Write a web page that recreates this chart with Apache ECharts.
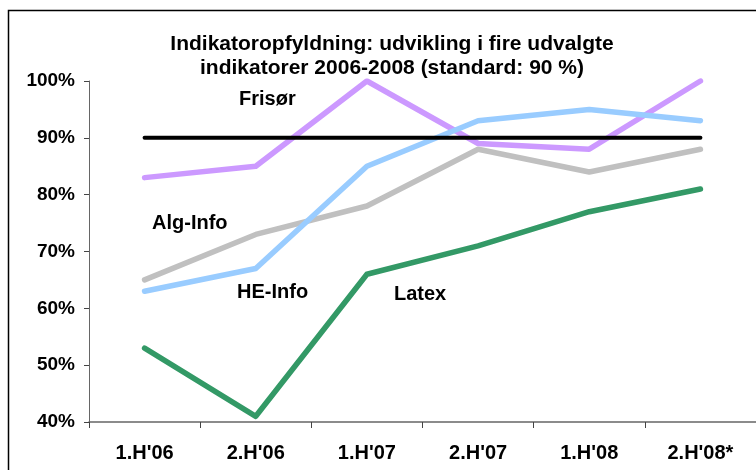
<!DOCTYPE html>
<html>
<head>
<meta charset="utf-8">
<script src="https://cdn.jsdelivr.net/npm/echarts@6/dist/echarts.min.js"></script>
<style>
  html, body { margin: 0; padding: 0; background: #fff; }
  #main { width: 756px; height: 470px; }
</style>
</head>
<body>
<div id="main"></div>
<script>
// halvår
const periods = ["1.H'06", "2.H'06", "1.H'07", "2.H'07", "1.H'08", "2.H'08*"];

// indikatorer, pct.
const frisoer = [83, 85, 100, 89, 88, 100];
const heInfo = [63, 67, 85, 93, 95, 93];
const algInfo = [65, 73, 78, 88, 84, 88];
const latex = [53, 41, 66, 71, 77, 81];
const standard = [90, 90, 90, 90, 90, 90];

const FONT = '"Liberation Sans", Arial, sans-serif';

function lineSeries(name, data, color, width, z) {
    return {
        name: name,
        type: 'line',
        data: data,
        symbol: 'none',
        z: z,
        lineStyle: { color: color, width: width, cap: 'round', join: 'round' }
    };
}

function label(text, x, y) {
    return {
        type: 'text',
        x: x,
        y: y,
        z: 100,
        style: {
            text: text,
            font: 'bold 20px ' + FONT,
            fill: '#000',
            textVerticalAlign: 'middle'
        }
    };
}

var chart = echarts.init(document.getElementById('main'));

chart.setOption({
    animation: false,
    backgroundColor: '#fff',
    title: {
        text: 'Indikatoropfyldning: udvikling i fire udvalgte\nindikatorer 2006-2008 (standard: 90 %)',
        left: 387,
        top: 27,
        textAlign: 'center',
        textStyle: {
            fontFamily: FONT,
            fontWeight: 'bold',
            fontSize: 21,
            lineHeight: 24,
            color: '#000'
        }
    },
    grid: { left: 89, right: -1, top: 81, bottom: 48 },
    xAxis: {
        type: 'category',
        data: periods,
        boundaryGap: true,
        axisLine: { lineStyle: { color: '#666', width: 1.5 } },
        axisTick: { show: true, length: 6, lineStyle: { color: '#444' } },
        axisLabel: {
            margin: 21,
            fontFamily: FONT,
            fontWeight: 'bold',
            fontSize: 20,
            color: '#000'
        },
        splitLine: { show: false }
    },
    yAxis: {
        type: 'value',
        min: 40,
        max: 100,
        interval: 10,
        axisLine: { show: true, lineStyle: { color: '#666', width: 1 } },
        axisTick: { show: true, length: 5, lineStyle: { color: '#444' } },
        axisLabel: {
            formatter: '{value}%',
            margin: 14,
            fontFamily: FONT,
            fontWeight: 'bold',
            fontSize: 19,
            color: '#000'
        },
        splitLine: { show: false }
    },
    series: [
        lineSeries('Alg-Info', algInfo, '#C0C0C0', 5.5, 2),
        lineSeries('Frisør', frisoer, '#CC99FF', 5.5, 3),
        lineSeries('HE-Info', heInfo, '#99CCFF', 5.5, 4),
        lineSeries('Latex', latex, '#339966', 5.5, 5),
        lineSeries('Standard', standard, '#000000', 4, 6)
    ],
    graphic: [
        {
            type: 'rect',
            shape: { x: 8.5, y: 10.5, width: 900, height: 600 },
            style: { fill: null, stroke: '#000', lineWidth: 1.5 },
            z: 100
        },
        label('Frisør', 239, 99),
        label('Alg-Info', 152, 223),
        label('HE-Info', 237, 292),
        label('Latex', 394, 294)
    ]
});
</script>
</body>
</html>
